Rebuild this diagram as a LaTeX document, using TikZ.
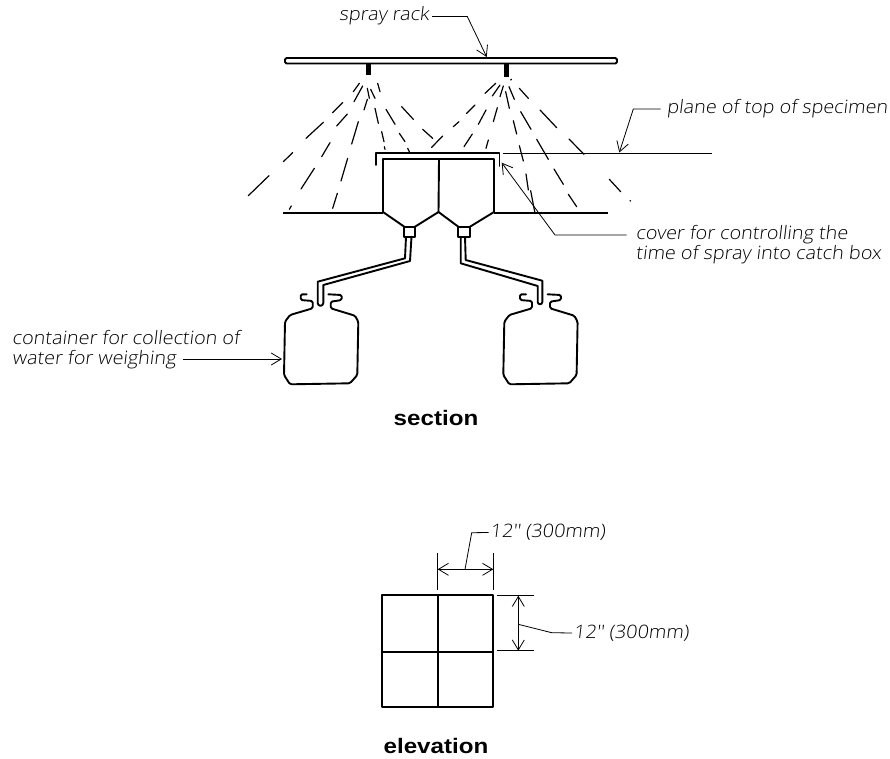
\documentclass[tikz,border=0pt]{standalone}
\usepackage{fontspec}
\setmainfont{Liberation Sans}
\newfontfamily\handf{Open Sans Light}[AutoFakeSlant=0.12,FakeStretch=1.07]
\newfontfamily\titlef{Liberation Sans Bold}[FakeStretch=1.15]
\usetikzlibrary{arrows.meta}
\tikzset{
  x=1pt,y=-1pt,
  thick line/.style={line width=1.9pt,line join=round,line cap=round},
  thin line/.style={line width=1.2pt,line join=round},
  spray/.style={line width=1.2pt,line cap=round},
  leader/.style={line width=0.8pt,-{Straight Barb[length=10pt,width=12pt,line width=0.8pt]}},
  dim/.style={line width=0.8pt,{Straight Barb[length=10pt,width=12pt,line width=0.8pt]}-{Straight Barb[length=10pt,width=12pt,line width=0.8pt]}},
  ext/.style={line width=0.8pt},
  hand/.style={font=\handf\fontsize{18.5}{20.7}\selectfont\itshape,inner sep=0pt,anchor=west,align=left},
  title/.style={font=\titlef\fontsize{21}{24}\selectfont,inner sep=0pt},
}
\begin{document}
\begin{tikzpicture}
\useasboundingbox[fill=white] (0,0) rectangle (890,758);
% rack
\draw[thick line,rounded corners=1.5pt] (285,58) rectangle (617,63.5);
\fill (366,64) rectangle (370.5,75);
\fill (503.5,64) rectangle (509,77);
% spray
\begin{scope}[shift={(230,0)},scale=0.33333]
\foreach \a/\b/\c/\d in {370/275/388/250,372/305/398/258,402/330/412/298,418/295/412/265,435/295/422/268,450/275/443/250,
 308/338/338/308,320/378/352/342,365/432/385/365,445/370/435/325,495/373/468/328,550/358/515/320,228/415/280/367,275/470/300/428,333/543/353/475,
 455/395/462/425,463/440/465/448,508/400/525/425,533/445/538/455,578/388/608/415,160/485/188/458,55/587/117/527,213/567/253/505,308/625/322/580,178/628/184/618,
 765/280/797/250,787/288/810/255,810/290/820/258,838/325/827/275,853/298/837/260,895/295/868/265,842/240/844/238,
 710/340/735/315,670/380/687/365,745/373/768/330,790/365/802/323,605/442/638/408,702/440/727/402,768/445/775/420,860/402/850/362,903/388/872/335,980/383/930/330,
 880/483/868/437,955/478/920/418,1062/463/1017/417,895/570/888/522,1000/553/972/507,1040/620/1015/583,915/640/902/572,1172/575/1138/538,1200/602/1202/603}
  \draw[spray] (\a,\b) -- (\c,\d);
\end{scope}
% cover and catch boxes
\draw[thick line] (376,165) -- (376,153) -- (499.5,153) -- (499.5,166);
\draw[thick line] (383,212) -- (383,159) -- (494,159) -- (494,212);
\draw[thick line] (439,159) -- (438.5,212);
\draw[thick line] (383,212) -- (404.3,226.7) (415,226.7) -- (438.5,212) -- (458.3,226.7) (470,226.7) -- (494,212);
\draw[thick line] (404.3,227) rectangle (415,236.7);
\draw[thick line] (458.3,227) rectangle (470,236.7);
% planes
\draw[thin line] (283.3,213) -- (383,213);
\draw[thin line] (494,213) -- (608,213);
\draw[thin line] (502.7,153.3) -- (711.7,153.3);
% pipes
\draw[thick line] (411.5,236.7) -- (410,261) -- (323.3,285) -- (323.3,303) arc[start angle=0,end angle=180,radius=2.8] -- (317.7,281.7) -- (405,258.3) -- (406,236.7);
\draw[thick line] (460.7,236.7) -- (460.7,263.3) -- (537.7,286) -- (537.7,302) arc[start angle=180,end angle=0,radius=2.3] -- (542.3,280.7) -- (465.7,260) -- (465,236.7);
% bottles
\def\bottle{(306.7,294.3) -- (300.7,294.3) -- (300.7,300) -- (312.7,301) -- (312.7,308.3) -- (290,315) -- (285,321.7) -- (284,375) -- (290,384.3) -- (350,383.3) -- (357.3,375) -- (358.3,321.7) -- (355,315.7) -- (330.7,308.3) -- (330.7,301.7) -- (341.7,300) -- (341.7,295) -- (328.3,294.3)}
\draw[thick line,rounded corners=1.5pt] \bottle;
\begin{scope}[shift={(219.3,0)}]
\draw[thick line,rounded corners=1.5pt] \bottle;
\end{scope}
% labels
\node[hand] (rack) at (339,16) {spray rack};
\node[hand] (plane) at (666.7,109) {plane of top of specimen};
\node[hand] (cover) at (635.7,244.5) {cover for controlling the\\time of spray into catch box};
\node[hand] (cont) at (12,349.5) {container for collection of\\water for weighing};
\node[title] (sec) at (436,418) {section};
\node[title] (elev) at (436,746) {elevation};
\node[hand] (dimA) at (490,532.5) {12'' (300mm)};
\node[hand] (dimB) at (573.5,633) {12'' (300mm)};
\coordinate (rackT) at (486.7,57);
\coordinate (planeT) at (619.3,152.5);
\coordinate (coverT) at (501.7,162.7);
\coordinate (bottleT) at (282,359);
\draw[leader] (rack.east) ++(3,0.5) -- (467.3,16.5) -- (rackT);
\draw[leader] (plane.west) ++(-6,0) -- (633.3,109) -- (planeT);
\draw[leader] (626.7,235) -- (555,235) -- (coverT);
\draw[leader] (183,359) -- (bottleT);
% elevation
\draw[thick line] (381.7,595) rectangle (492.7,706.7);
\draw[thick line] (438,595) -- (438,706.7) (381.7,651.7) -- (492.7,651.7);
\coordinate (a1) at (437.7,569.3);
\coordinate (a2) at (493.3,569.3);
\draw[ext] (437.7,553.3) -- (437.7,590) (493.3,553.3) -- (493.3,590);
\draw[dim] (a1) -- (a2);
\draw[ext] (dimA.west) ++(-1.5,0) -- (471.7,532.7) -- (465,569.3);
\coordinate (b1) at (518.3,595.7);
\coordinate (b2) at (518.3,650.7);
\draw[ext] (496.7,595.7) -- (534,595.7) (496.7,650.7) -- (534,650.7);
\draw[dim] (b1) -- (b2);
\draw[ext] (dimB.west) ++(-1.5,0) -- (551.7,632.7) -- (518.3,624.3);
\end{tikzpicture}
\end{document}
